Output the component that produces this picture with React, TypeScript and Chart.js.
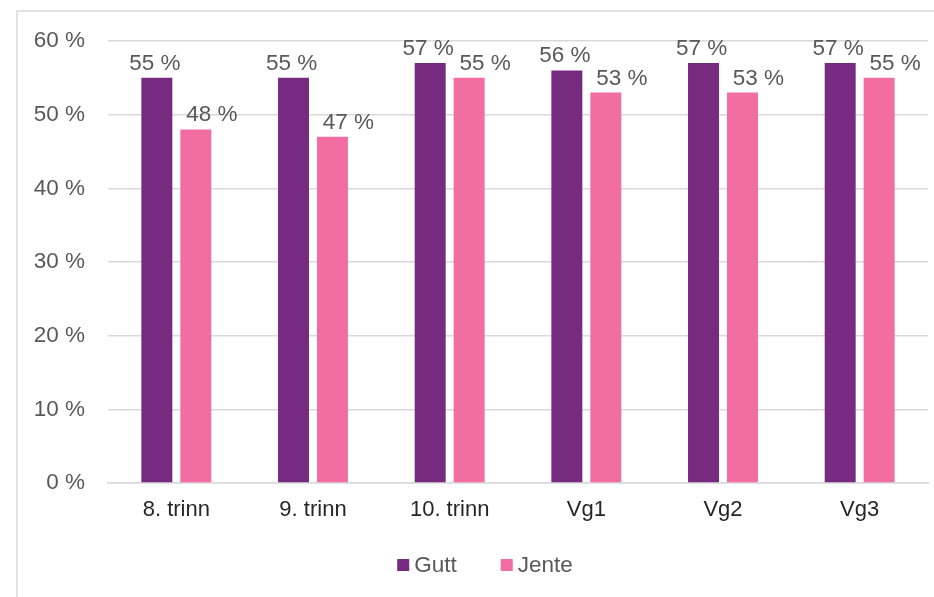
import React, { useEffect, useRef } from "react";
import { Chart, registerables } from "chart.js";

Chart.register(...registerables);

const categories = ["8. trinn", "9. trinn", "10. trinn", "Vg1", "Vg2", "Vg3"];
const gutt = [55, 55, 57, 56, 57, 57];
const jente = [48, 47, 55, 53, 53, 55];
const seriesNames = ["Gutt", "Jente"];
const colors = ["#762a80", "#f26da1"];

const FONT = "'Liberation Sans', Arial, sans-serif";

const framePlugin = {
  id: "frame",
  beforeDraw(chart: any) {
    const ctx = chart.ctx;
    ctx.save();
    ctx.strokeStyle = "#d9d9d9";
    ctx.lineWidth = 1.5;
    ctx.beginPath();
    ctx.moveTo(17, chart.height + 5);
    ctx.lineTo(17, 11);
    ctx.lineTo(chart.width + 5, 11);
    ctx.stroke();
    ctx.restore();
  },
};

const labelPlugin = {
  id: "barLabels",
  afterDatasetsDraw(chart: any) {
    const ctx = chart.ctx;
    ctx.save();
    ctx.font = `22.5px ${FONT}`;
    ctx.fillStyle = "#595959";
    ctx.textAlign = "center";
    ctx.textBaseline = "bottom";
    chart.data.datasets.forEach((ds: any, i: number) => {
      const meta = chart.getDatasetMeta(i);
      const shift = i === 0 ? -2 : 16;
      meta.data.forEach((bar: any, j: number) => {
        ctx.fillText(`${ds.data[j]} %`, bar.x + shift, bar.y - 3);
      });
    });
    ctx.restore();
  },
};

const legendPlugin = {
  id: "customLegend",
  afterDraw(chart: any) {
    const ctx = chart.ctx;
    ctx.save();
    ctx.font = `22.5px ${FONT}`;
    ctx.textBaseline = "middle";
    const box = 12;
    const gapText = 5;
    const gapItem = 44;
    const widths = seriesNames.map((n) => box + gapText + ctx.measureText(n).width);
    const total = widths.reduce((a, b) => a + b, 0) + gapItem * (widths.length - 1);
    let x = 485 - total / 2;
    const y = 565;
    seriesNames.forEach((n, i) => {
      ctx.fillStyle = colors[i];
      ctx.fillRect(x, y - box / 2, box, box);
      ctx.fillStyle = "#595959";
      ctx.textAlign = "left";
      ctx.fillText(n, x + box + gapText, y + 1);
      x += widths[i] + gapItem;
    });
    ctx.restore();
  },
};

export default function App() {
  const ref = useRef<HTMLCanvasElement>(null);
  useEffect(() => {
    document.body.style.margin = "0";
    const chart = new Chart(ref.current as HTMLCanvasElement, {
      type: "bar",
      data: {
        labels: categories,
        datasets: [
          { label: seriesNames[0], data: gutt, backgroundColor: colors[0] },
          { label: seriesNames[1], data: jente, backgroundColor: colors[1] },
        ],
      },
      options: {
        responsive: false,
        animation: false,
        layout: { padding: { top: 41, right: 6, bottom: 54, left: 0 } },
        datasets: {
          bar: { categoryPercentage: 0.57, barPercentage: 0.795 },
        },
        plugins: {
          legend: { display: false },
          tooltip: { enabled: false },
        },
        scales: {
          x: {
            grid: { display: false },
            border: { display: true, color: "#d9d9d9", width: 1.5 },
            ticks: {
              color: "#262626",
              font: { family: FONT, size: 22 },
              padding: 6,
              maxRotation: 0,
            },
            afterFit: (s: any) => {
              s.height = 60;
            },
          },
          y: {
            min: 0,
            max: 60,
            ticks: {
              stepSize: 10,
              color: "#595959",
              font: { family: FONT, size: 22.5 },
              padding: 23,
              callback: (v: any) => `${v} %`,
            },
            grid: { color: "#d9d9d9", lineWidth: 1.5, drawTicks: false },
            border: { display: false },
            afterFit: (s: any) => {
              s.width = 108;
            },
          },
        },
      },
      plugins: [framePlugin, labelPlugin, legendPlugin],
    });
    return () => chart.destroy();
  }, []);
  return <canvas ref={ref} width={934} height={597} style={{ display: "block" }} />;
}
